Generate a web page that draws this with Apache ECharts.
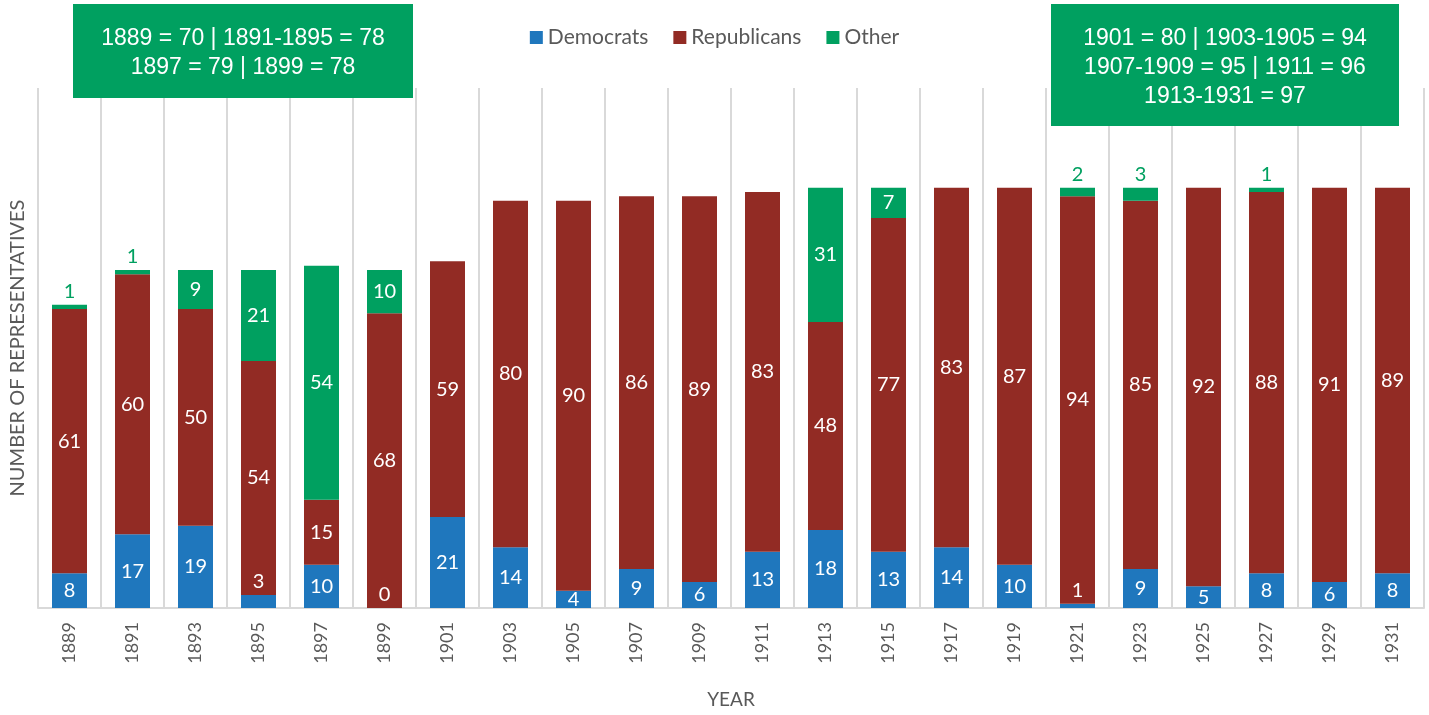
<!DOCTYPE html>
<html>
<head>
<meta charset="utf-8">
<script src="https://cdn.jsdelivr.net/npm/echarts@6/dist/echarts.min.js"></script>
<style>
  html, body { margin: 0; padding: 0; background: #fff; }
  #main { width: 1429px; height: 715px; }
</style>
</head>
<body>
<div id="main"></div>
<script>
var years = ['1889', '1891', '1893', '1895', '1897', '1899', '1901', '1903', '1905', '1907', '1909',
             '1911', '1913', '1915', '1917', '1919', '1921', '1923', '1925', '1927', '1929', '1931'];
var democrats   = [8, 17, 19, 3, 10, 0, 21, 14, 4, 9, 6, 13, 18, 13, 14, 10, 1, 9, 5, 8, 6, 8];
var republicans = [61, 60, 50, 54, 15, 68, 59, 80, 90, 86, 89, 83, 48, 77, 83, 87, 94, 85, 92, 88, 91, 89];
var other       = [1, 1, 9, 21, 54, 10, 0, 0, 0, 0, 0, 0, 31, 7, 0, 0, 2, 3, 0, 1, 0, 0];

var noteLeft  = ['1889 = 70 | 1891-1895 = 78', '1897 = 79 | 1899 = 78'];
var noteRight = ['1901 = 80 | 1903-1905 = 94', '1907-1909 = 95 | 1911 = 96', '1913-1931 = 97'];

var COL_D = '#1f77bd', COL_R = '#922b24', COL_O = '#00a060';
var FONT = 'Lato, "Open Sans", sans-serif';
var NOTE_FONT = '23px "Liberation Sans", Arial, sans-serif';

// small segments get their label above the bar, like the original
function demData() {
    return democrats.map(function (v) {
        if (v <= 3) return { value: v, label: { position: 'top', distance: 3 } };
        return v;
    });
}
function otherData() {
    return other.map(function (v) {
        if (v > 0 && v <= 3) return { value: v, label: { position: 'top', distance: 3, color: COL_O } };
        return v;
    });
}

var labelStyle = { show: true, position: 'inside', color: '#fff', fontSize: 20, fontFamily: FONT };

var chart = echarts.init(document.getElementById('main'));
chart.setOption({
    animation: false,
    textStyle: { fontFamily: FONT },
    legend: {
        top: 22,
        left: 'center',
        icon: 'rect',
        itemWidth: 13,
        itemHeight: 13,
        itemGap: 25,
        textStyle: { fontSize: 21, color: '#595959', fontFamily: FONT },
        data: ['Democrats', 'Republicans', 'Other']
    },
    grid: { left: 37, right: 5, top: 88, bottom: 107 },
    xAxis: {
        type: 'category',
        data: years,
        name: 'YEAR',
        nameLocation: 'middle',
        nameGap: 82,
        nameTextStyle: { fontSize: 19, color: '#595959', fontFamily: FONT },
        axisLine: { lineStyle: { color: '#d9d9d9', width: 2 } },
        axisTick: { show: false },
        axisLabel: { rotate: 90, fontSize: 18, color: '#595959', margin: 14, fontFamily: FONT },
        splitLine: { show: true, lineStyle: { color: '#d9d9d9', width: 2 } }
    },
    yAxis: {
        type: 'value',
        min: 0,
        max: 120,
        name: 'NUMBER OF REPRESENTATIVES',
        nameLocation: 'middle',
        nameGap: 10,
        nameTextStyle: { fontSize: 20, color: '#595959', fontFamily: FONT },
        axisLine: { show: false },
        axisTick: { show: false },
        axisLabel: { show: false },
        splitLine: { show: false }
    },
    series: [
        {
            name: 'Democrats', type: 'bar', stack: 'total', barWidth: 35,
            itemStyle: { color: COL_D },
            label: labelStyle,
            data: demData()
        },
        {
            name: 'Republicans', type: 'bar', stack: 'total', barWidth: 35,
            itemStyle: { color: COL_R },
            label: labelStyle,
            data: republicans
        },
        {
            name: 'Other', type: 'bar', stack: 'total', barWidth: 35,
            itemStyle: { color: COL_O },
            label: Object.assign({}, labelStyle, {
                formatter: function (p) { return p.value ? String(p.value) : ''; }
            }),
            data: otherData()
        }
    ],
    graphic: [
        {
            type: 'group', left: 73, top: 4, z: 100, zlevel: 1,
            children: [
                { type: 'rect', z: 100, shape: { x: 0, y: 0, width: 340, height: 94 }, style: { fill: COL_O } },
                {
                    type: 'text', z: 101, x: 170, y: 49,
                    style: {
                        text: noteLeft.join('\n'), fill: '#fff', align: 'center', verticalAlign: 'middle',
                        font: NOTE_FONT, lineHeight: 29
                    }
                }
            ]
        },
        {
            type: 'group', left: 1051, top: 4, z: 100, zlevel: 1,
            children: [
                { type: 'rect', z: 100, shape: { x: 0, y: 0, width: 348, height: 122 }, style: { fill: COL_O } },
                {
                    type: 'text', z: 101, x: 174, y: 64,
                    style: {
                        text: noteRight.join('\n'), fill: '#fff', align: 'center', verticalAlign: 'middle',
                        font: NOTE_FONT, lineHeight: 29
                    }
                }
            ]
        }
    ]
});
</script>
</body>
</html>
